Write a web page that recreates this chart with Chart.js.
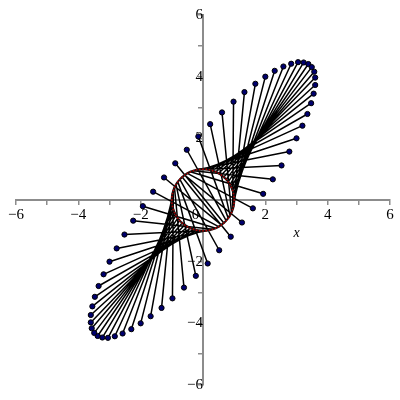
<!DOCTYPE html>
<html>
<head>
<meta charset="utf-8">
<script src="https://cdn.jsdelivr.net/npm/chart.js@4/dist/chart.umd.min.js"></script>
<style>
html,body{margin:0;padding:0;background:#fff;}
#wrap{width:400px;height:400px;}
</style>
</head>
<body>
<div id="wrap"><canvas id="c" width="400" height="400"></canvas></div>
<script>
// unit vectors (start of each segment)
const innerX = [1, 0.995, 0.978, 0.951, 0.914, 0.866, 0.809, 0.743, 0.669, 0.588, 0.5, 0.407, 0.309, 0.208, 0.105, 0, -0.105, -0.208, -0.309, -0.407, -0.5, -0.588, -0.669, -0.743, -0.809, -0.866, -0.914, -0.951, -0.978, -0.995,
  -1, -0.995, -0.978, -0.951, -0.914, -0.866, -0.809, -0.743, -0.669, -0.588, -0.5, -0.407, -0.309, -0.208, -0.105, 0, 0.105, 0.208, 0.309, 0.407, 0.5, 0.588, 0.669, 0.743, 0.809, 0.866, 0.914, 0.951, 0.978, 0.995];
const innerY = [0, 0.105, 0.208, 0.309, 0.407, 0.5, 0.588, 0.669, 0.743, 0.809, 0.866, 0.914, 0.951, 0.978, 0.995, 1, 0.995, 0.978, 0.951, 0.914, 0.866, 0.809, 0.743, 0.669, 0.588, 0.5, 0.407, 0.309, 0.208, 0.105,
  0, -0.105, -0.208, -0.309, -0.407, -0.5, -0.588, -0.669, -0.743, -0.809, -0.866, -0.914, -0.951, -0.978, -0.995, -1, -0.995, -0.978, -0.951, -0.914, -0.866, -0.809, -0.743, -0.669, -0.588, -0.5, -0.407, -0.309, -0.208, -0.105];
// image points (end of each segment, marked with a dot)
const outerX = [2, 2.30, 2.58, 2.83, 3.05, 3.23, 3.38, 3.49, 3.57, 3.60, 3.60, 3.55, 3.47, 3.35, 3.19, 3, 2.77, 2.52, 2.24, 1.93, 1.60, 1.25, 0.89, 0.52, 0.15, -0.23, -0.61, -0.98, -1.33, -1.68,
  -2, -2.30, -2.58, -2.83, -3.05, -3.23, -3.38, -3.49, -3.57, -3.60, -3.60, -3.55, -3.47, -3.35, -3.19, -3, -2.77, -2.52, -2.24, -1.93, -1.60, -1.25, -0.89, -0.52, -0.15, 0.23, 0.61, 0.98, 1.33, 1.68];
const outerY = [4, 4.19, 4.33, 4.42, 4.47, 4.46, 4.41, 4.31, 4.16, 3.97, 3.73, 3.45, 3.14, 2.79, 2.41, 2, 1.57, 1.12, 0.67, 0.20, -0.27, -0.73, -1.19, -1.63, -2.06, -2.46, -2.84, -3.19, -3.50, -3.77,
  -4, -4.19, -4.33, -4.42, -4.47, -4.46, -4.41, -4.31, -4.16, -3.97, -3.73, -3.45, -3.14, -2.79, -2.41, -2, -1.57, -1.12, -0.67, -0.20, 0.27, 0.73, 1.19, 1.63, 2.06, 2.46, 2.84, 3.19, 3.50, 3.77];

const xTickValues = [-6, -4, -2, 0, 2, 4, 6];
const xTickLabels = ['\u22126', '\u22124', '\u22122', '0\u2003', '2', '4', '6'];
const yTickValues = [-6, -4, -2, 2, 4, 6];
const yTickLabels = ['\u22126', '\u22124', '\u22122', '2', '4', '6'];
const xAxisTitle = 'x';

const segData = [];
for (let i = 0; i < innerX.length; i++) {
  segData.push({x: innerX[i], y: innerY[i]});
  segData.push({x: outerX[i], y: outerY[i]});
  segData.push({x: outerX[i], y: null});
}
const outerPts = outerX.map((v, i) => ({x: v, y: outerY[i]}));
const innerPts = innerX.map((v, i) => ({x: v, y: innerY[i]}));
const ringPts = innerPts.concat([innerPts[0]]);

const GRAY = '#8c8c8c';
const FONT = {family: "'Liberation Serif', 'DejaVu Serif', serif", size: 15};

const titlePlugin = {
  id: 'xtitle',
  afterDraw(chart) {
    const ctx = chart.ctx;
    const xs = chart.scales.x, ys = chart.scales.y;
    ctx.save();
    ctx.font = "italic 14px 'Liberation Serif', serif";
    ctx.fillStyle = '#000';
    ctx.textAlign = 'center';
    ctx.textBaseline = 'middle';
    ctx.fillText(xAxisTitle, xs.getPixelForValue(3), ys.getPixelForValue(0) + 33);
    ctx.restore();
  }
};

new Chart(document.getElementById('c'), {
  type: 'scatter',
  data: {
    datasets: [
      {
        data: segData, showLine: true, spanGaps: false,
        borderColor: '#000', borderWidth: 1.5, pointRadius: 0, order: 4
      },
      {
        data: ringPts, showLine: true, tension: 0.3,
        borderColor: '#111', borderWidth: 2.2, pointRadius: 0, order: 3
      },
      {
        data: innerPts, pointRadius: 0.9, pointBackgroundColor: '#b00000',
        pointBorderWidth: 0, pointBorderColor: '#b00000', order: 2
      },
      {
        data: outerPts, pointRadius: 2.6, pointBackgroundColor: '#00006e',
        pointBorderColor: '#000', pointBorderWidth: 1, order: 1
      }
    ]
  },
  options: {
    responsive: false,
    animation: false,
    layout: {padding: {left: 16, right: 10, top: 15, bottom: 15}},
    plugins: {legend: {display: false}, tooltip: {enabled: false}},
    scales: {
      x: {
        type: 'linear', min: -6, max: 6, position: {y: 0},
        border: {display: true, color: GRAY, width: 2},
        grid: {drawOnChartArea: false, drawTicks: true, tickLength: 4, color: GRAY, lineWidth: 1.5},
        ticks: {
          stepSize: 1, autoSkip: false, maxRotation: 0, color: '#000', font: FONT, padding: 2,
          callback: (v) => { const i = xTickValues.indexOf(v); return i >= 0 ? xTickLabels[i] : ''; }
        }
      },
      y: {
        type: 'linear', min: -6, max: 6, position: {x: 0},
        border: {display: true, color: GRAY, width: 2},
        grid: {drawOnChartArea: false, drawTicks: true, tickLength: 4, color: GRAY, lineWidth: 1.5},
        ticks: {
          stepSize: 1, autoSkip: false, color: '#000', font: FONT, padding: 3,
          callback: (v) => { const i = yTickValues.indexOf(v); return i >= 0 ? yTickLabels[i] : ''; }
        }
      }
    }
  },
  plugins: [titlePlugin]
});
</script>
</body>
</html>
